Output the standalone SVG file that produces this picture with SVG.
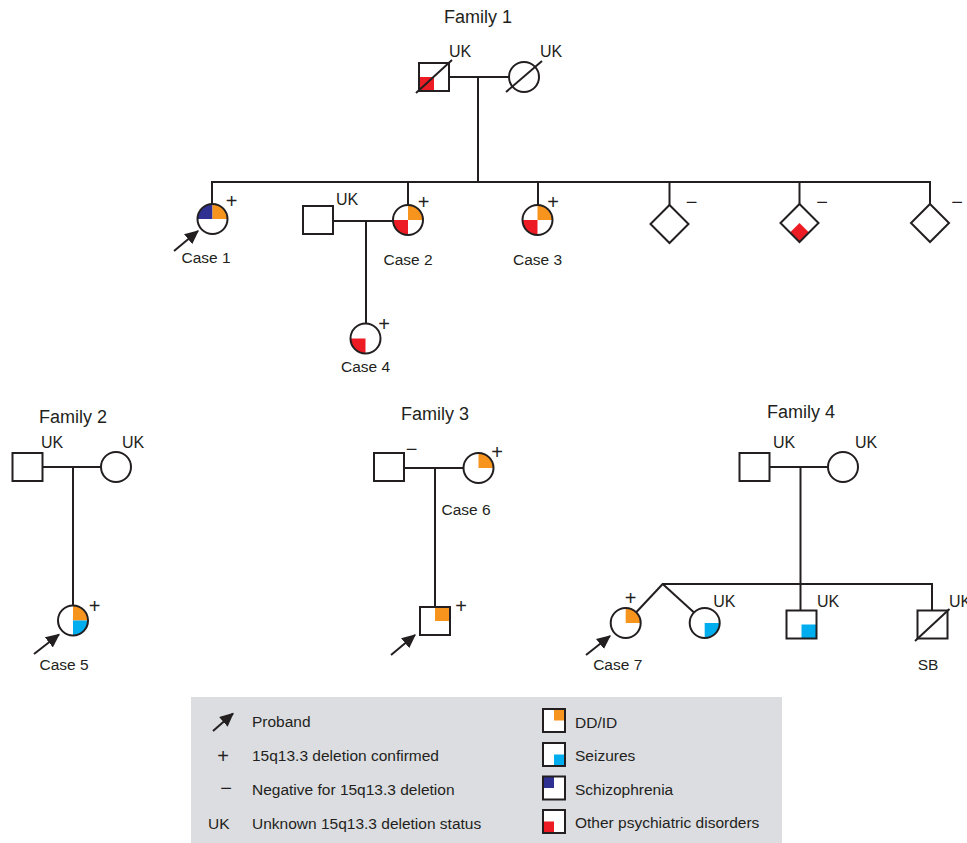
<svg xmlns="http://www.w3.org/2000/svg" xmlns:xlink="http://www.w3.org/1999/xlink" width="967" height="843" viewBox="0 0 967 843">
<style>
.ln{stroke:#231f20;stroke-width:2;fill:none}
.bg{fill:#fff;stroke:none}
.out{fill:none;stroke:#231f20;stroke-width:2}
.t{font-family:"Liberation Sans",Arial,sans-serif;font-size:15.5px;fill:#231f20}
.ttl{font-size:18px}
.uk{font-size:16px}
.sg{font-size:20px;text-anchor:middle}
.m{text-anchor:middle}
.o{fill:#f7941d}.r{fill:#ed1c24}.n{fill:#2e3192}.b{fill:#00aeef}
</style>
<defs>
<marker id="ah" viewBox="0 0 12 11" refX="11" refY="5.5" markerWidth="14" markerHeight="13" orient="auto" markerUnits="userSpaceOnUse"><path d="M0,0L12,5.5L0,11Z" fill="#231f20"/></marker>
<path id="cUR" d="M0,0V-15A15,15 0 0 1 15,0Z"/>
<path id="cUL" d="M0,0H-15A15,15 0 0 1 0,-15Z"/>
<path id="cLL" d="M0,0V15A15,15 0 0 1 -15,0Z"/>
<path id="cLR" d="M0,0H15A15,15 0 0 1 0,15Z"/>
<circle id="cbg" r="15" class="bg"/>
<circle id="cout" r="15" class="out"/>
<rect id="sbg" x="-15" y="-14" width="30" height="28" class="bg"/>
<rect id="sout" x="-15" y="-14" width="30" height="28" class="out"/>
<polygon id="dia" points="0,-19 19,0 0,19 -19,0"/>
</defs>
<rect width="967" height="843" fill="#fff"/>

<g id="titles">
<text class="t ttl m" x="478" y="23">Family 1</text>
<text class="t ttl m" x="73" y="423">Family 2</text>
<text class="t ttl m" x="435" y="420">Family 3</text>
<text class="t ttl m" x="801" y="418">Family 4</text>
</g>

<g id="connectors">
<line class="ln" x1="449" y1="77" x2="509" y2="77"/>
<line class="ln" x1="478" y1="77" x2="478" y2="182"/>
<line class="ln" x1="211" y1="182" x2="931" y2="182"/>
<line class="ln" x1="212" y1="182" x2="212" y2="204"/>
<line class="ln" x1="408" y1="182" x2="408" y2="205"/>
<line class="ln" x1="538" y1="182" x2="538" y2="205"/>
<line class="ln" x1="669.5" y1="182" x2="669.5" y2="205"/>
<line class="ln" x1="799.5" y1="182" x2="799.5" y2="204"/>
<line class="ln" x1="930" y1="182" x2="930" y2="204"/>
<line class="ln" x1="333" y1="221" x2="393" y2="221"/>
<line class="ln" x1="366" y1="221" x2="366" y2="324"/>
<line class="ln" x1="42" y1="467" x2="101" y2="467"/>
<line class="ln" x1="73" y1="467" x2="73" y2="606"/>
<line class="ln" x1="404" y1="468" x2="464" y2="468"/>
<line class="ln" x1="435" y1="468" x2="435" y2="607"/>
<line class="ln" x1="769" y1="467" x2="828" y2="467"/>
<line class="ln" x1="800.5" y1="467" x2="800.5" y2="611"/>
<line class="ln" x1="662" y1="584" x2="933" y2="584"/>
<line class="ln" x1="662.7" y1="584" x2="636" y2="612.5"/>
<line class="ln" x1="662.7" y1="584" x2="694" y2="612.5"/>
<line class="ln" x1="932" y1="584" x2="932" y2="611"/>
<line class="ln" x1="174" y1="251" x2="198" y2="231" marker-end="url(#ah)"/>
<line class="ln" x1="34" y1="654" x2="59" y2="634.5" marker-end="url(#ah)"/>
<line class="ln" x1="391" y1="655" x2="415" y2="635" marker-end="url(#ah)"/>
<line class="ln" x1="586" y1="655" x2="610" y2="636" marker-end="url(#ah)"/>
</g>

<g id="f1-father" transform="translate(434,77)">
<use xlink:href="#sbg"/>
<rect x="-15" y="0" width="15" height="14" class="r"/>
<use xlink:href="#sout"/>
<line class="ln" x1="-18" y1="16" x2="18" y2="-17"/>
<text class="t uk" x="15" y="-20">UK</text>
</g>
<g id="f1-mother" transform="translate(524,77)">
<use xlink:href="#cbg"/><use xlink:href="#cout"/>
<line class="ln" x1="-18" y1="15" x2="18" y2="-16"/>
<text class="t uk" x="16" y="-20">UK</text>
</g>
<g id="case1" transform="translate(212.5,219)">
<use xlink:href="#cbg"/><use xlink:href="#cUL" class="n"/><use xlink:href="#cUR" class="o"/><use xlink:href="#cout"/>
<text class="t sg" x="19" y="-11.5">+</text>
<text class="t m" x="-6.5" y="44">Case 1</text>
</g>
<g id="f1-spouse" transform="translate(318,220)">
<use xlink:href="#sbg"/><use xlink:href="#sout"/>
<text class="t uk" x="18" y="-15">UK</text>
</g>
<g id="case2" transform="translate(408,220)">
<use xlink:href="#cbg"/><use xlink:href="#cUR" class="o"/><use xlink:href="#cLL" class="r"/><use xlink:href="#cout"/>
<text class="t sg" x="15.5" y="-11.5">+</text>
<text class="t m" x="0" y="45">Case 2</text>
</g>
<g id="case3" transform="translate(537.5,220)">
<use xlink:href="#cbg"/><use xlink:href="#cUR" class="o"/><use xlink:href="#cLL" class="r"/><use xlink:href="#cout"/>
<text class="t sg" x="15.5" y="-11.5">+</text>
<text class="t m" x="0" y="45">Case 3</text>
</g>
<g id="f1-sib1" transform="translate(669.5,224)">
<use xlink:href="#dia" class="bg"/><use xlink:href="#dia" class="out"/>
<text class="t sg" x="22" y="-15">−</text>
</g>
<g id="f1-sib2" transform="translate(799.5,223)">
<use xlink:href="#dia" class="bg"/>
<polygon points="0,0 9.5,9.5 0,19 -9.5,9.5" class="r"/>
<use xlink:href="#dia" class="out"/>
<text class="t sg" x="22.5" y="-14.5">−</text>
</g>
<g id="f1-sib3" transform="translate(930,223)">
<use xlink:href="#dia" class="bg"/><use xlink:href="#dia" class="out"/>
<text class="t sg" x="27" y="-14.5">−</text>
</g>
<g id="case4" transform="translate(365.5,338.5)">
<use xlink:href="#cbg"/><use xlink:href="#cLL" class="r"/><use xlink:href="#cout"/>
<text class="t sg" x="18.5" y="-8">+</text>
<text class="t m" x="0" y="33.5">Case 4</text>
</g>

<g id="f2-father" transform="translate(27.5,467)">
<use xlink:href="#sbg"/><use xlink:href="#sout"/>
<text class="t uk" x="13.5" y="-19">UK</text>
</g>
<g id="f2-mother" transform="translate(116,467)">
<use xlink:href="#cbg"/><use xlink:href="#cout"/>
<text class="t uk" x="6" y="-19">UK</text>
</g>
<g id="case5" transform="translate(73,620.5)">
<use xlink:href="#cbg"/><use xlink:href="#cUR" class="o"/><use xlink:href="#cLR" class="b"/><use xlink:href="#cout"/>
<text class="t sg" x="21.5" y="-8">+</text>
<text class="t m" x="-9" y="49.5">Case 5</text>
</g>

<g id="f3-father" transform="translate(389,467)">
<use xlink:href="#sbg"/><use xlink:href="#sout"/>
<text class="t sg" x="22.5" y="-11.5">−</text>
</g>
<g id="f3-mother" transform="translate(478.5,468)">
<use xlink:href="#cbg"/><use xlink:href="#cUR" class="o"/><use xlink:href="#cout"/>
<text class="t sg" x="18.5" y="-9">+</text>
</g>
<text class="t" x="441.5" y="515">Case 6</text>
<g id="case6" transform="translate(435,621)">
<use xlink:href="#sbg"/>
<rect x="0" y="-14" width="15" height="14" class="o"/>
<use xlink:href="#sout"/>
<text class="t sg" x="26" y="-8.5">+</text>
</g>

<g id="f4-father" transform="translate(754.5,467)">
<use xlink:href="#sbg"/><use xlink:href="#sout"/>
<text class="t uk" x="18.5" y="-19">UK</text>
</g>
<g id="f4-mother" transform="translate(843,467)">
<use xlink:href="#cbg"/><use xlink:href="#cout"/>
<text class="t uk" x="12" y="-19">UK</text>
</g>
<g id="case7" transform="translate(625.7,623)">
<use xlink:href="#cbg"/><use xlink:href="#cUR" class="o"/><use xlink:href="#cout"/>
<text class="t sg" x="5" y="-18.5">+</text>
<text class="t m" x="-8" y="47">Case 7</text>
</g>
<g id="f4-twin2" transform="translate(704.7,623)">
<use xlink:href="#cbg"/><use xlink:href="#cLR" class="b"/><use xlink:href="#cout"/>
<text class="t uk" x="8.5" y="-16">UK</text>
</g>
<g id="f4-son" transform="translate(801.5,624.5)">
<use xlink:href="#sbg"/>
<rect x="0" y="0" width="15" height="14" class="b"/>
<use xlink:href="#sout"/>
<text class="t uk" x="15.5" y="-17.5">UK</text>
</g>
<g id="f4-sb" transform="translate(932.5,624.5)">
<use xlink:href="#sbg"/><use xlink:href="#sout"/>
<line class="ln" x1="-17.5" y1="16.5" x2="17" y2="-15.5"/>
<text class="t uk" x="16.5" y="-17.5">UK</text>
<text class="t m" x="-4.5" y="45.5">SB</text>
</g>

<g id="legend">
<rect x="191" y="697" width="591" height="146" fill="#dcdde0"/>
<line class="ln" x1="213" y1="731" x2="233" y2="713.5" marker-end="url(#ah)"/>
<text class="t" x="252" y="727">Proband</text>
<text class="t sg" x="223" y="762.5">+</text>
<text class="t" x="252" y="761">15q13.3 deletion confirmed</text>
<text class="t sg" x="226" y="794.5">−</text>
<text class="t" x="252" y="795">Negative for 15q13.3 deletion</text>
<text class="t" x="208" y="829">UK</text>
<text class="t" x="252" y="829">Unknown 15q13.3 deletion status</text>
<g transform="translate(543,709)">
<rect width="22" height="23" fill="#fff"/><rect x="11" y="0" width="11" height="11.5" class="o"/><rect width="22" height="23" class="out"/>
</g>
<text class="t" x="575" y="728">DD/ID</text>
<g transform="translate(543,743)">
<rect width="22" height="23" fill="#fff"/><rect x="11" y="11.5" width="11" height="11.5" class="b"/><rect width="22" height="23" class="out"/>
</g>
<text class="t" x="575" y="761">Seizures</text>
<g transform="translate(543,776.5)">
<rect width="22" height="23" fill="#fff"/><rect x="0" y="0" width="11" height="11.5" class="n"/><rect width="22" height="23" class="out"/>
</g>
<text class="t" x="575" y="794.5">Schizophrenia</text>
<g transform="translate(543,810)">
<rect width="22" height="23" fill="#fff"/><rect x="0" y="11.5" width="11" height="11.5" class="r"/><rect width="22" height="23" class="out"/>
</g>
<text class="t" x="575" y="828">Other psychiatric disorders</text>
</g>
</svg>
